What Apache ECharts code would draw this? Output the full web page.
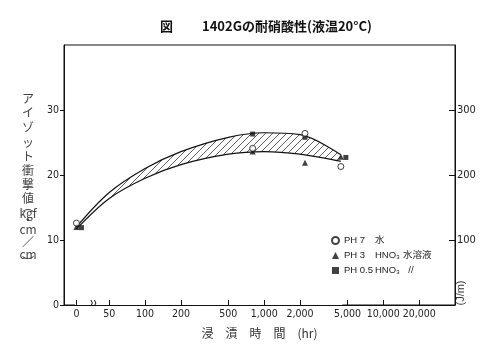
<!DOCTYPE html>
<html><head><meta charset="utf-8">
<script src="https://cdn.jsdelivr.net/npm/echarts@6/dist/echarts.min.js"></script>
<style>html,body{margin:0;padding:0;background:#fff}#c{width:500px;height:360px}</style>
</head><body><div id="c"></div>
<script>
// ---- data ----
const tickHours = [0, 50, 100, 200, 500, 1000, 2000, 5000, 10000, 20000];
const tickLabels = ['0', '50', '100', '200', '500', '1,000', '2,000', '5,000', '10,000', '20,000'];
const leftTicks = [0, 10, 20, 30];
const rightTicks = [100, 200, 300];
const pointHours = [0, 800, 2200, 4400];
const ph7 = [12.6, 24.1, 26.4, 21.3];
const ph3 = [12.0, 23.6, 21.9, 22.8];
const ph05 = [11.9, 26.3, 25.8, 22.7];
const curveHours = [0, 50, 100, 200, 500, 1000, 2000, 4400];
const upperCurve = [12.0, 17.3, 21.0, 23.6, 25.8, 26.5, 26.2, 23.1];
const lowerCurve = [11.7, 16.4, 19.5, 21.6, 23.2, 23.6, 23.2, 22.1];
const seriesNames = ['PH 7', 'PH 3', 'PH 0.5'];
const agents = ['水', 'HNO₃', 'HNO₃'];
const notes = ['', '水溶液', '  //'];

// ---- axis transform (log hours, with a broken-axis position for 0 h) ----
const ZERO_POS = 1.4235;
const BREAK_POS = 1.57;
const xPos = h => h === 0 ? ZERO_POS : Math.log10(h);
const tickPos = tickHours.map(xPos);

const NUM_FONT = '"Liberation Sans Narrow","DejaVu Sans Condensed","Liberation Sans",sans-serif';
const JP_FONT = '"Noto Sans CJK JP","Noto Sans",sans-serif';
const SMOOTH = 0.35;

// hatch pattern
const hatch = document.createElement('canvas');
hatch.width = 7; hatch.height = 7;
(function () {
  const g = hatch.getContext('2d');
  g.strokeStyle = '#333'; g.lineWidth = 0.8;
  g.beginPath();
  g.moveTo(0, 7); g.lineTo(7, 0);
  g.moveTo(-1, 1); g.lineTo(1, -1);
  g.moveTo(6, 8); g.lineTo(8, 6);
  g.stroke();
})();

const chart = echarts.init(document.getElementById('c'), null, {renderer: 'canvas'});

const nameChars = [
  ['ア', 98], ['イ', 112], ['ゾ', 127], ['ッ', 142], ['ト', 156], ['衝', 170], ['撃', 184], ['値', 198],
  ['︵', 206], ['kgf', 213], ['・', 220], ['cm', 229], ['／', 242], ['cm', 254], ['︶', 262]
];

const upperData = curveHours.map((h, i) => [xPos(h), upperCurve[i]]);
const lowerData = curveHours.map((h, i) => [xPos(h), lowerCurve[i]]);
const bandEnds = [lowerData[0], lowerData[lowerData.length - 1]];

const option = {
  animation: false,
  backgroundColor: '#fff',
  grid: {left: 64, right: 45, top: 45, bottom: 55, show: true, borderColor: '#111', borderWidth: 1},
  xAxis: {
    type: 'value', min: 1.319, max: 4.602, z: 10,
    axisLine: {show: true, lineStyle: {color: '#111', width: 1}},
    splitLine: {show: false},
    axisTick: {show: true, inside: true, length: 5, customValues: tickPos, lineStyle: {color: '#111'}},
    axisLabel: {
      customValues: tickPos, margin: 4, fontSize: 10.5, color: '#222', fontFamily: NUM_FONT,
      formatter: v => {
        const i = tickPos.findIndex(p => Math.abs(p - v) < 1e-6);
        return i >= 0 ? tickLabels[i] : '';
      }
    },
    name: '浸　漬　時　間　(hr)', nameLocation: 'middle', nameGap: 22,
    nameTextStyle: {fontSize: 12, color: '#333', fontFamily: JP_FONT}
  },
  yAxis: [
    {
      type: 'value', min: 0, max: 40, position: 'left',
      axisLine: {show: true, lineStyle: {color: '#111'}},
      splitLine: {show: false},
      axisTick: {show: true, inside: false, length: 4, customValues: leftTicks, lineStyle: {color: '#111'}},
      axisLabel: {customValues: leftTicks, margin: 5, fontSize: 10.5, color: '#222', fontFamily: NUM_FONT}
    },
    {
      type: 'value', min: 0, max: 400, position: 'right',
      axisLine: {show: true, lineStyle: {color: '#111'}},
      splitLine: {show: false},
      axisTick: {show: true, inside: true, length: 6, customValues: rightTicks, lineStyle: {color: '#111'}},
      axisLabel: {customValues: rightTicks, margin: 2, fontSize: 11, color: '#222', fontFamily: NUM_FONT}
    }
  ],
  legend: {
    data: seriesNames, orient: 'vertical', left: 326, top: 229,
    itemWidth: 7, itemHeight: 7, itemGap: 2,
    textStyle: {
      fontSize: 9.5, color: '#222', lineHeight: 13, fontFamily: '"Liberation Sans","Noto Sans CJK JP",sans-serif',
      rich: {a: {width: 31}, b: {width: 28}, c: {}}
    },
    formatter: name => {
      const i = seriesNames.indexOf(name);
      return '{a|' + name + '}{b|' + agents[i] + '}' + (notes[i] ? '{c|' + notes[i] + '}' : '');
    }
  },
  graphic: [
    {type: 'text', left: 160, top: 20, style: {text: '図', font: 'bold 13px ' + JP_FONT, fill: '#111'}},
    {type: 'text', left: 202, top: 20, style: {text: '1402Gの耐硝酸性(液温20°C)', font: 'bold 13px ' + JP_FONT, fill: '#111'}},
    ...nameChars.map(([t, y]) => ({
      type: 'text', x: 28, y: y,
      style: {text: t, align: 'center', verticalAlign: 'middle', font: '12px ' + JP_FONT, fill: '#444'}
    })),
    {type: 'text', x: 461, y: 293, rotation: Math.PI / 2,
     style: {text: '(J/m)', align: 'center', verticalAlign: 'middle', font: '11px "Liberation Sans",sans-serif', fill: '#333'}}
  ],
  series: [
    {
      name: 'bandTop', type: 'line', z: 2, silent: true, smooth: SMOOTH, symbol: 'none',
      data: upperData, lineStyle: {width: 0, opacity: 0},
      areaStyle: {color: {image: hatch, repeat: 'repeat'}, opacity: 1, origin: 'start'}
    },
    {
      name: 'bandBottom', type: 'line', z: 3, silent: true, smooth: SMOOTH, symbol: 'none',
      data: lowerData, lineStyle: {width: 0, opacity: 0},
      areaStyle: {color: '#fff', opacity: 1, origin: 'start'}
    },
    {
      // cover anti-aliasing seams at the band's vertical ends
      name: 'seams', type: 'custom', z: 3, silent: true,
      data: bandEnds,
      renderItem: (params, api) => {
        const a = api.coord([api.value(0), api.value(1)]);
        const b = api.coord([api.value(0), 0]);
        return {type: 'line', shape: {x1: a[0], y1: a[1] + 1, x2: b[0], y2: b[1]},
                style: {stroke: '#fff', lineWidth: 3}};
      }
    },
    {
      name: 'upper', type: 'line', z: 4, silent: true, smooth: SMOOTH, symbol: 'none',
      data: upperData, lineStyle: {color: '#111', width: 1.2}
    },
    {
      name: 'lower', type: 'line', z: 4, silent: true, smooth: SMOOTH, symbol: 'none',
      data: lowerData, lineStyle: {color: '#111', width: 1.2}
    },
    {
      name: 'PH 3', type: 'scatter', z: 5, symbol: 'triangle', symbolSize: 6,
      data: pointHours.map((h, i) => [xPos(h), ph3[i]]),
      itemStyle: {color: '#111'}
    },
    {
      name: 'PH 0.5', type: 'scatter', z: 5, symbol: 'rect', symbolSize: 5,
      data: pointHours.map((h, i) => ({
        value: [xPos(h), ph05[i]],
        symbolOffset: (i === 0 || i === pointHours.length - 1) ? [5, 0] : [0, 0]
      })),
      itemStyle: {color: '#111'}
    },
    {
      name: 'PH 7', type: 'scatter', z: 6, symbol: 'circle', symbolSize: 6,
      data: pointHours.map((h, i) => [xPos(h), ph7[i]]),
      itemStyle: {color: '#fff', borderColor: '#111', borderWidth: 1}
    },
    {
      name: 'break', type: 'custom', z: 20, silent: true,
      data: [[BREAK_POS, 0]],
      renderItem: (params, api) => {
        const p = api.coord([api.value(0), api.value(1)]);
        const x = p[0], y = p[1];
        return {
          type: 'group', children: [
            {type: 'bezierCurve', shape: {x1: x - 3, y1: y - 5, x2: x - 3, y2: y + 1, cpx1: x, cpy1: y - 2},
             style: {stroke: '#111', lineWidth: 1, fill: null}},
            {type: 'bezierCurve', shape: {x1: x + 0.5, y1: y - 5, x2: x + 0.5, y2: y + 1, cpx1: x + 3.5, cpy1: y - 2},
             style: {stroke: '#111', lineWidth: 1, fill: null}}
          ]
        };
      }
    }
  ]
};
chart.setOption(option);
</script>
</body></html>
